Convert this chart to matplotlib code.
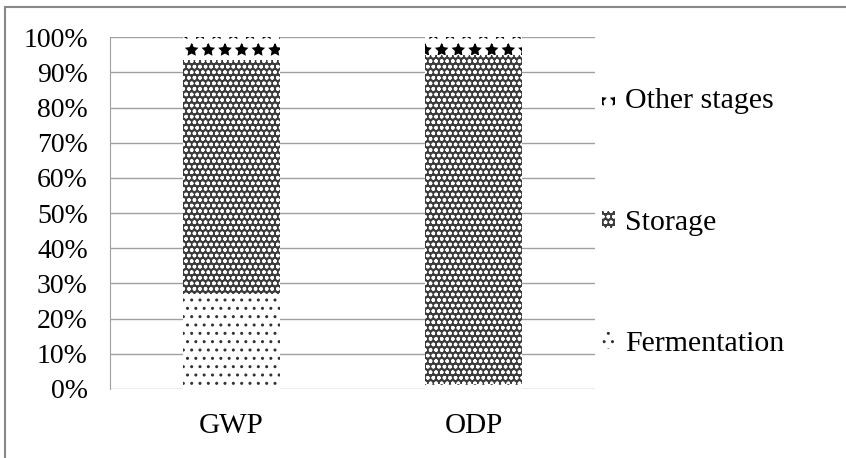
import numpy as np
import matplotlib.pyplot as plt
from matplotlib.patches import Patch, Rectangle

categories = ["GWP", "ODP"]
fermentation = [27.0, 1.5]
storage = [66.5, 93.5]
other_stages = [6.5, 5.0]
y_ticks = [0, 10, 20, 30, 40, 50, 60, 70, 80, 90, 100]

plt.rcParams["font.family"] = ["Liberation Serif", "DejaVu Serif"]
plt.rcParams["hatch.linewidth"] = 1.0

fig = plt.figure(figsize=(8.46, 4.58), dpi=100)
ax = fig.add_axes([0.130, 0.1507, 0.573, 0.768])

x = np.arange(len(categories))
width = 0.4
styles = {
    "Fermentation": dict(facecolor="white", edgecolor="#333333", hatch=".."),
    "Storage": dict(facecolor="#3c3c3c", edgecolor="white", hatch="ooo"),
    "Other stages": dict(facecolor="white", edgecolor="black", hatch="*"),
}

bottom = np.zeros(len(categories))
for name, vals in [("Fermentation", fermentation), ("Storage", storage),
                   ("Other stages", other_stages)]:
    ax.bar(x, vals, width, bottom=bottom, linewidth=0, **styles[name])
    bottom += np.array(vals)

ax.set_xlim(-0.5, 1.5)
ax.set_ylim(0, 100)
ax.set_yticks(y_ticks)
ax.set_yticklabels([f"{v}%" for v in y_ticks], fontsize=20)
ax.set_xticks(x)
ax.set_xticklabels(categories, fontsize=21)
ax.tick_params(axis="y", length=0, pad=16)
ax.tick_params(axis="x", length=0, pad=17)
ax.yaxis.grid(True, color="#a0a0a0", linewidth=1)
ax.set_axisbelow(True)
for side in ["top", "right", "bottom"]:
    ax.spines[side].set_visible(False)
ax.spines["left"].set_color("#a0a0a0")

handles = [Patch(linewidth=0, **styles[n]) for n in ["Other stages", "Storage", "Fermentation"]]
fig.legend(handles, ["Other stages", "Storage", "Fermentation"], loc="upper left",
           bbox_to_anchor=(0.694, 0.840), frameon=False, fontsize=21.5, borderpad=0,
           handlelength=0.45, handleheight=0.5, handletextpad=0.32, labelspacing=3.2)

fig.patches.append(Rectangle((5 / 846, -0.1), 1.2, (458 - 6.5) / 458 + 0.1,
                             transform=fig.transFigure, fill=False,
                             edgecolor="#888888", linewidth=1.5))

fig.savefig("out.png", dpi=100)
